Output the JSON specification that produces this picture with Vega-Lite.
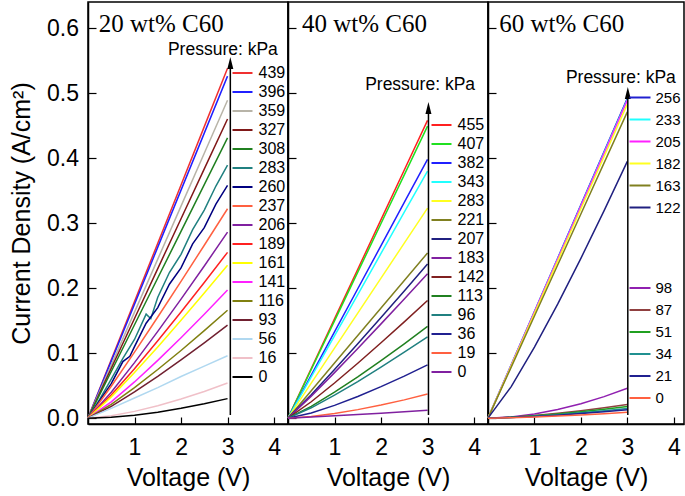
{
"$schema":"https://vega.github.io/schema/vega-lite/v6.json",
"padding":{"left":8,"top":1,"right":0,"bottom":0},
"bounds":"flush",
"spacing":0,
"config":{"font":"Liberation Sans","view":{"stroke":"black","strokeWidth":1.5},
"axis":{"domainColor":"black","domainWidth":1.5,"tickColor":"black","tickWidth":1.2,"labelColor":"black","titleColor":"black","labelFont":"Liberation Sans","titleFont":"Liberation Sans","labelFontSize":23,"titleFontSize":25,"titleFontWeight":"normal","grid":false,"labelOverlap":false,"labelFlush":false,"labelBound":false},
"legend":{"orient":"none","title":null,"symbolType":"stroke","symbolStrokeWidth":2,"labelColor":"black","labelFont":"Liberation Sans","padding":0,"offset":0},
"concat":{"spacing":0}},
"datasets":{
"c20":[
{"p":"439","V":0,"J":0},{"p":"439","V":0.5,"J":0.0897},{"p":"439","V":1,"J":0.1793},{"p":"439","V":1.5,"J":0.269},{"p":"439","V":2,"J":0.3587},{"p":"439","V":2.5,"J":0.4483},{"p":"439","V":3,"J":0.538},
{"p":"396","V":0,"J":0},{"p":"396","V":0.5,"J":0.0877},{"p":"396","V":1,"J":0.1753},{"p":"396","V":1.5,"J":0.263},{"p":"396","V":2,"J":0.3507},{"p":"396","V":2.5,"J":0.4383},{"p":"396","V":3,"J":0.526},
{"p":"359","V":0,"J":0},{"p":"359","V":0.5,"J":0.0815},{"p":"359","V":1,"J":0.163},{"p":"359","V":1.5,"J":0.2445},{"p":"359","V":2,"J":0.326},{"p":"359","V":2.5,"J":0.4075},{"p":"359","V":3,"J":0.489},
{"p":"327","V":0,"J":0},{"p":"327","V":0.5,"J":0.0767},{"p":"327","V":1,"J":0.1533},{"p":"327","V":1.5,"J":0.23},{"p":"327","V":2,"J":0.3067},{"p":"327","V":2.5,"J":0.3833},{"p":"327","V":3,"J":0.46},
{"p":"308","V":0,"J":0},{"p":"308","V":0.5,"J":0.0718},{"p":"308","V":1,"J":0.1437},{"p":"308","V":1.5,"J":0.2155},{"p":"308","V":2,"J":0.2873},{"p":"308","V":2.5,"J":0.3592},{"p":"308","V":3,"J":0.431},
{"p":"283","V":0,"J":0},{"p":"283","V":0.25,"J":0.029},{"p":"283","V":0.5,"J":0.06},{"p":"283","V":0.75,"J":0.092},{"p":"283","V":1,"J":0.121},{"p":"283","V":1.25,"J":0.16},{"p":"283","V":1.35,"J":0.153},{"p":"283","V":1.5,"J":0.186},{"p":"283","V":1.75,"J":0.224},{"p":"283","V":2,"J":0.252},{"p":"283","V":2.25,"J":0.29},{"p":"283","V":2.5,"J":0.32},{"p":"283","V":2.75,"J":0.357},{"p":"283","V":3,"J":0.389},
{"p":"260","V":0,"J":0},{"p":"260","V":0.25,"J":0.027},{"p":"260","V":0.5,"J":0.053},{"p":"260","V":0.75,"J":0.087},{"p":"260","V":0.9,"J":0.095},{"p":"260","V":1,"J":0.11},{"p":"260","V":1.25,"J":0.146},{"p":"260","V":1.5,"J":0.17},{"p":"260","V":1.75,"J":0.206},{"p":"260","V":2,"J":0.231},{"p":"260","V":2.25,"J":0.268},{"p":"260","V":2.5,"J":0.293},{"p":"260","V":2.75,"J":0.329},{"p":"260","V":3,"J":0.358},
{"p":"237","V":0,"J":0},{"p":"237","V":0.5,"J":0.0491},{"p":"237","V":1,"J":0.1016},{"p":"237","V":1.5,"J":0.1555},{"p":"237","V":2,"J":0.2104},{"p":"237","V":2.5,"J":0.2659},{"p":"237","V":3,"J":0.322},
{"p":"206","V":0,"J":0},{"p":"206","V":0.5,"J":0.0398},{"p":"206","V":1,"J":0.0854},{"p":"206","V":1.5,"J":0.1334},{"p":"206","V":2,"J":0.1831},{"p":"206","V":2.5,"J":0.234},{"p":"206","V":3,"J":0.286},
{"p":"189","V":0,"J":0},{"p":"189","V":0.5,"J":0.0355},{"p":"189","V":1,"J":0.0761},{"p":"189","V":1.5,"J":0.119},{"p":"189","V":2,"J":0.1633},{"p":"189","V":2.5,"J":0.2087},{"p":"189","V":3,"J":0.255},
{"p":"161","V":0,"J":0},{"p":"161","V":0.5,"J":0.0327},{"p":"161","V":1,"J":0.0702},{"p":"161","V":1.5,"J":0.1096},{"p":"161","V":2,"J":0.1504},{"p":"161","V":2.5,"J":0.1923},{"p":"161","V":3,"J":0.235},
{"p":"141","V":0,"J":0},{"p":"141","V":0.5,"J":0.0251},{"p":"141","V":1,"J":0.0557},{"p":"141","V":1.5,"J":0.0888},{"p":"141","V":2,"J":0.1236},{"p":"141","V":2.5,"J":0.1597},{"p":"141","V":3,"J":0.197},
{"p":"116","V":0,"J":0},{"p":"116","V":0.5,"J":0.0211},{"p":"116","V":1,"J":0.0469},{"p":"116","V":1.5,"J":0.0748},{"p":"116","V":2,"J":0.1041},{"p":"116","V":2.5,"J":0.1346},{"p":"116","V":3,"J":0.166},
{"p":"93","V":0,"J":0},{"p":"93","V":0.5,"J":0.0182},{"p":"93","V":1,"J":0.0404},{"p":"93","V":1.5,"J":0.0644},{"p":"93","V":2,"J":0.0897},{"p":"93","V":2.5,"J":0.1159},{"p":"93","V":3,"J":0.143},
{"p":"56","V":0,"J":0},{"p":"56","V":0.5,"J":0.015},{"p":"56","V":1,"J":0.031},{"p":"56","V":1.5,"J":0.047},{"p":"56","V":2,"J":0.064},{"p":"56","V":2.5,"J":0.08},{"p":"56","V":3,"J":0.096},
{"p":"16","V":0,"J":0},{"p":"16","V":0.5,"J":0.0037},{"p":"16","V":1,"J":0.0104},{"p":"16","V":1.5,"J":0.0191},{"p":"16","V":2,"J":0.0294},{"p":"16","V":2.5,"J":0.0411},{"p":"16","V":3,"J":0.054},
{"p":"0","V":0,"J":0},{"p":"0","V":0.5,"J":0.0014},{"p":"0","V":1,"J":0.0046},{"p":"0","V":1.5,"J":0.0092},{"p":"0","V":2,"J":0.0151},{"p":"0","V":2.5,"J":0.022},{"p":"0","V":3,"J":0.03}
],
"c40":[
{"p":"455","V":0,"J":0},{"p":"455","V":0.5,"J":0.0763},{"p":"455","V":1,"J":0.1527},{"p":"455","V":1.5,"J":0.229},{"p":"455","V":2,"J":0.3053},{"p":"455","V":2.5,"J":0.3817},{"p":"455","V":3,"J":0.458},
{"p":"407","V":0,"J":0},{"p":"407","V":0.5,"J":0.0748},{"p":"407","V":1,"J":0.1497},{"p":"407","V":1.5,"J":0.2245},{"p":"407","V":2,"J":0.2993},{"p":"407","V":2.5,"J":0.3742},{"p":"407","V":3,"J":0.449},
{"p":"382","V":0,"J":0},{"p":"382","V":0.5,"J":0.0663},{"p":"382","V":1,"J":0.1327},{"p":"382","V":1.5,"J":0.199},{"p":"382","V":2,"J":0.2653},{"p":"382","V":2.5,"J":0.3317},{"p":"382","V":3,"J":0.398},
{"p":"343","V":0,"J":0},{"p":"343","V":0.5,"J":0.0633},{"p":"343","V":1,"J":0.1267},{"p":"343","V":1.5,"J":0.19},{"p":"343","V":2,"J":0.2533},{"p":"343","V":2.5,"J":0.3167},{"p":"343","V":3,"J":0.38},
{"p":"283","V":0,"J":0},{"p":"283","V":0.5,"J":0.0538},{"p":"283","V":1,"J":0.1077},{"p":"283","V":1.5,"J":0.1615},{"p":"283","V":2,"J":0.2153},{"p":"283","V":2.5,"J":0.2692},{"p":"283","V":3,"J":0.323},
{"p":"221","V":0,"J":0},{"p":"221","V":0.5,"J":0.0423},{"p":"221","V":1,"J":0.0847},{"p":"221","V":1.5,"J":0.127},{"p":"221","V":2,"J":0.1693},{"p":"221","V":2.5,"J":0.2117},{"p":"221","V":3,"J":0.254},
{"p":"207","V":0,"J":0},{"p":"207","V":0.5,"J":0.0361},{"p":"207","V":1,"J":0.0748},{"p":"207","V":1.5,"J":0.1145},{"p":"207","V":2,"J":0.1548},{"p":"207","V":2.5,"J":0.1957},{"p":"207","V":3,"J":0.237},
{"p":"183","V":0,"J":0},{"p":"183","V":0.5,"J":0.0338},{"p":"183","V":1,"J":0.07},{"p":"183","V":1.5,"J":0.1072},{"p":"183","V":2,"J":0.145},{"p":"183","V":2.5,"J":0.1833},{"p":"183","V":3,"J":0.222},
{"p":"142","V":0,"J":0},{"p":"142","V":0.5,"J":0.0252},{"p":"142","V":1,"J":0.054},{"p":"142","V":1.5,"J":0.0844},{"p":"142","V":2,"J":0.1159},{"p":"142","V":2.5,"J":0.1481},{"p":"142","V":3,"J":0.181},
{"p":"113","V":0,"J":0},{"p":"113","V":0.5,"J":0.018},{"p":"113","V":1,"J":0.0399},{"p":"113","V":1.5,"J":0.0635},{"p":"113","V":2,"J":0.0884},{"p":"113","V":2.5,"J":0.1143},{"p":"113","V":3,"J":0.141},
{"p":"96","V":0,"J":0},{"p":"96","V":0.5,"J":0.0159},{"p":"96","V":1,"J":0.0353},{"p":"96","V":1.5,"J":0.0563},{"p":"96","V":2,"J":0.0784},{"p":"96","V":2.5,"J":0.1014},{"p":"96","V":3,"J":0.125},
{"p":"36","V":0,"J":0},{"p":"36","V":0.5,"J":0.008},{"p":"36","V":1,"J":0.0197},{"p":"36","V":1.5,"J":0.0333},{"p":"36","V":2,"J":0.0484},{"p":"36","V":2.5,"J":0.0647},{"p":"36","V":3,"J":0.082},
{"p":"19","V":0,"J":0},{"p":"19","V":0.5,"J":0.0025},{"p":"19","V":1,"J":0.0071},{"p":"19","V":1.5,"J":0.0131},{"p":"19","V":2,"J":0.0201},{"p":"19","V":2.5,"J":0.0281},{"p":"19","V":3,"J":0.037},
{"p":"0","V":0,"J":0},{"p":"0","V":0.5,"J":0.0017},{"p":"0","V":1,"J":0.0036},{"p":"0","V":1.5,"J":0.0056},{"p":"0","V":2,"J":0.0077},{"p":"0","V":2.5,"J":0.0098},{"p":"0","V":3,"J":0.012}
],
"c60hi":[
{"p":"256","V":0,"J":0},{"p":"256","V":0.5,"J":0.082},{"p":"256","V":1,"J":0.164},{"p":"256","V":1.5,"J":0.246},{"p":"256","V":2,"J":0.328},{"p":"256","V":2.5,"J":0.41},{"p":"256","V":3,"J":0.492},
{"p":"233","V":0,"J":0},{"p":"233","V":0.5,"J":0.0817},{"p":"233","V":1,"J":0.1633},{"p":"233","V":1.5,"J":0.245},{"p":"233","V":2,"J":0.3267},{"p":"233","V":2.5,"J":0.4083},{"p":"233","V":3,"J":0.49},
{"p":"205","V":0,"J":0},{"p":"205","V":0.5,"J":0.0815},{"p":"205","V":1,"J":0.163},{"p":"205","V":1.5,"J":0.2445},{"p":"205","V":2,"J":0.326},{"p":"205","V":2.5,"J":0.4075},{"p":"205","V":3,"J":0.489},
{"p":"182","V":0,"J":0},{"p":"182","V":0.5,"J":0.0805},{"p":"182","V":1,"J":0.161},{"p":"182","V":1.5,"J":0.2415},{"p":"182","V":2,"J":0.322},{"p":"182","V":2.5,"J":0.4025},{"p":"182","V":3,"J":0.483},
{"p":"163","V":0,"J":0},{"p":"163","V":0.5,"J":0.0785},{"p":"163","V":1,"J":0.157},{"p":"163","V":1.5,"J":0.2355},{"p":"163","V":2,"J":0.314},{"p":"163","V":2.5,"J":0.3925},{"p":"163","V":3,"J":0.471},
{"p":"122","V":0,"J":0},{"p":"122","V":0.5,"J":0.0485},{"p":"122","V":1,"J":0.1093},{"p":"122","V":1.5,"J":0.1755},{"p":"122","V":2,"J":0.2458},{"p":"122","V":2.5,"J":0.3191},{"p":"122","V":3,"J":0.395}
],
"c60lo":[
{"p":"98","V":0,"J":0},{"p":"98","V":0.5,"J":0.0018},{"p":"98","V":1,"J":0.0064},{"p":"98","V":1.5,"J":0.0132},{"p":"98","V":2,"J":0.0222},{"p":"98","V":2.5,"J":0.0331},{"p":"98","V":3,"J":0.046},
{"p":"87","V":0,"J":0},{"p":"87","V":0.5,"J":0.0014},{"p":"87","V":1,"J":0.004},{"p":"87","V":1.5,"J":0.0074},{"p":"87","V":2,"J":0.0114},{"p":"87","V":2.5,"J":0.016},{"p":"87","V":3,"J":0.021},
{"p":"51","V":0,"J":0},{"p":"51","V":0.5,"J":0.0012},{"p":"51","V":1,"J":0.0035},{"p":"51","V":1.5,"J":0.0064},{"p":"51","V":2,"J":0.0098},{"p":"51","V":2.5,"J":0.0137},{"p":"51","V":3,"J":0.018},
{"p":"34","V":0,"J":0},{"p":"34","V":0.5,"J":0.001},{"p":"34","V":1,"J":0.0029},{"p":"34","V":1.5,"J":0.0053},{"p":"34","V":2,"J":0.0082},{"p":"34","V":2.5,"J":0.0114},{"p":"34","V":3,"J":0.015},
{"p":"21","V":0,"J":0},{"p":"21","V":0.5,"J":0.0009},{"p":"21","V":1,"J":0.0025},{"p":"21","V":1.5,"J":0.0046},{"p":"21","V":2,"J":0.0071},{"p":"21","V":2.5,"J":0.0099},{"p":"21","V":3,"J":0.013},
{"p":"0","V":0,"J":0},{"p":"0","V":0.5,"J":0.0006},{"p":"0","V":1,"J":0.0017},{"p":"0","V":1.5,"J":0.0032},{"p":"0","V":2,"J":0.0049},{"p":"0","V":2.5,"J":0.0068},{"p":"0","V":3,"J":0.009}
]
},
"hconcat":[
{"width":200,"height":422,
"layer":[
{"data":{"name":"c20"},"mark":{"type":"line","strokeWidth":1.5},
"encoding":{
"x":{"field":"V","type":"quantitative","scale":{"domain":[0,4.3],"nice":false,"zero":false},"axis":{"title":"Voltage (V)","values":[1,2,3,4],"format":"d","tickSize":-7,"labelPadding":19,"titlePadding":6}},
"y":{"field":"J","type":"quantitative","scale":{"domain":[-0.009,0.64],"nice":false,"zero":false},"axis":{"title":"Current Density (A/cm²)","values":[0,0.05,0.1,0.15,0.2,0.25,0.3,0.35,0.4,0.45,0.5,0.55,0.6],"format":".1f","labelExpr":"round(datum.value*100) % 10 == 0 ? datum.label : ''","tickSize":{"condition":{"test":"round(datum.value*100) % 10 != 0","value":-5},"value":-8},"labelPadding":17.5,"titlePadding":12}},
"color":{"field":"p","type":"nominal","scale":{"domain":["439","396","359","327","308","283","260","237","206","189","161","141","116","93","56","16","0"],"range":["#f03030","#2020ff","#b8b4a8","#801818","#208020","#208080","#000080","#ff6040","#8020a0","#ff2020","#ffff00","#ff20ff","#808010","#702030","#b0d8f0","#f0c0c8","#000000"]},
"legend":{"legendX":143.5,"legendY":60,"symbolSize":400,"labelFontSize":16,"labelOffset":5,"rowPadding":-2.9}}}},
{"data":{"values":[{}]},"mark":{"type":"rule","color":"black","strokeWidth":1.5},"encoding":{"x":{"datum":3.06},"y":{"datum":0.005},"y2":{"datum":0.546}}},
{"data":{"values":[{}]},"mark":{"type":"point","shape":"M0,-1L-0.5,1L0.5,1Z","size":144,"filled":true,"color":"black","opacity":1},"encoding":{"x":{"datum":3.06},"y":{"datum":0.546}}},
{"data":{"values":[{}]},"mark":{"type":"text","text":"20 wt% C60","font":"Liberation Serif","fontSize":25,"align":"left","baseline":"middle","color":"black"},"encoding":{"x":{"datum":0.23},"y":{"datum":0.606}}},
{"data":{"values":[{}]},"mark":{"type":"text","text":"Pressure: kPa","fontSize":17.5,"align":"center","baseline":"middle","color":"black"},"encoding":{"x":{"datum":2.9},"y":{"datum":0.566}}}
]},
{"width":200,"height":422,
"layer":[
{"data":{"name":"c40"},"mark":{"type":"line","strokeWidth":1.5},
"encoding":{
"x":{"field":"V","type":"quantitative","scale":{"domain":[0,4.3],"nice":false,"zero":false},"axis":{"title":"Voltage (V)","values":[1,2,3,4],"format":"d","tickSize":-7,"labelPadding":19,"titlePadding":6}},
"y":{"field":"J","type":"quantitative","scale":{"domain":[-0.009,0.64],"nice":false,"zero":false},"axis":{"title":null,"labels":false,"values":[0,0.05,0.1,0.15,0.2,0.25,0.3,0.35,0.4,0.45,0.5,0.55,0.6],"tickSize":{"condition":{"test":"round(datum.value*100) % 10 != 0","value":-5},"value":-8}}},
"color":{"field":"p","type":"nominal","scale":{"domain":["455","407","382","343","283","221","207","183","142","113","96","36","19","0"],"range":["#ff2020","#20e020","#2020ff","#20ffff","#ffff20","#808020","#202080","#8020a0","#802020","#208020","#208080","#202090","#ff6040","#8020a0"]},
"legend":{"legendX":142.5,"legendY":112,"symbolSize":400,"labelFontSize":16,"labelOffset":5,"rowPadding":-1.5}}}},
{"data":{"values":[{}]},"mark":{"type":"rule","color":"black","strokeWidth":1.5},"encoding":{"x":{"datum":3.02},"y":{"datum":0.005},"y2":{"datum":0.477}}},
{"data":{"values":[{}]},"mark":{"type":"point","shape":"M0,-1L-0.5,1L0.5,1Z","size":144,"filled":true,"color":"black","opacity":1},"encoding":{"x":{"datum":3.02},"y":{"datum":0.477}}},
{"data":{"values":[{}]},"mark":{"type":"text","text":"40 wt% C60","font":"Liberation Serif","fontSize":25,"align":"left","baseline":"middle","color":"black"},"encoding":{"x":{"datum":0.3},"y":{"datum":0.606}}},
{"data":{"values":[{}]},"mark":{"type":"text","text":"Pressure: kPa","fontSize":17.5,"align":"center","baseline":"middle","color":"black"},"encoding":{"x":{"datum":2.84},"y":{"datum":0.512}}}
]},
{"width":196,"height":422,
"layer":[
{"data":{"name":"c60hi"},"mark":{"type":"line","strokeWidth":1.5},
"encoding":{
"x":{"field":"V","type":"quantitative","scale":{"domain":[0,4.22],"nice":false,"zero":false},"axis":{"title":"Voltage (V)","values":[1,2,3,4],"format":"d","tickSize":-7,"labelPadding":19,"titlePadding":6}},
"y":{"field":"J","type":"quantitative","scale":{"domain":[-0.009,0.64],"nice":false,"zero":false},"axis":{"title":null,"labels":false,"values":[0,0.05,0.1,0.15,0.2,0.25,0.3,0.35,0.4,0.45,0.5,0.55,0.6],"tickSize":{"condition":{"test":"round(datum.value*100) % 10 != 0","value":-5},"value":-8}}},
"color":{"field":"p","type":"nominal","scale":{"domain":["256","233","205","182","163","122"],"range":["#2020d0","#20ffff","#ff20ff","#ffff20","#808020","#202080"]},
"legend":{"legendX":140.5,"legendY":84,"symbolSize":441,"labelFontSize":15,"labelOffset":4}}}},
{"data":{"name":"c60lo"},"mark":{"type":"line","strokeWidth":1.5},
"encoding":{
"x":{"field":"V","type":"quantitative"},
"y":{"field":"J","type":"quantitative"},
"color":{"field":"p","type":"nominal","scale":{"domain":["98","87","51","34","21","0"],"range":["#9020b0","#904040","#20a020","#209090","#202090","#ff6040"]},
"legend":{"legendX":140.5,"legendY":274.5,"symbolSize":441,"labelFontSize":15,"labelOffset":4}}}},
{"data":{"values":[{}]},"mark":{"type":"rule","color":"black","strokeWidth":1.5},"encoding":{"x":{"datum":3.01},"y":{"datum":0.005},"y2":{"datum":0.5}}},
{"data":{"values":[{}]},"mark":{"type":"point","shape":"M0,-1L-0.5,1L0.5,1Z","size":144,"filled":true,"color":"black","opacity":1},"encoding":{"x":{"datum":3.01},"y":{"datum":0.5}}},
{"data":{"values":[{}]},"mark":{"type":"text","text":"60 wt% C60","font":"Liberation Serif","fontSize":25,"align":"left","baseline":"middle","color":"black"},"encoding":{"x":{"datum":0.24},"y":{"datum":0.606}}},
{"data":{"values":[{}]},"mark":{"type":"text","text":"Pressure: kPa","fontSize":17.5,"align":"center","baseline":"middle","color":"black"},"encoding":{"x":{"datum":2.86},"y":{"datum":0.523}}}
],
"resolve":{"scale":{"color":"independent"}}}
],
"resolve":{"scale":{"color":"independent"}}
}
